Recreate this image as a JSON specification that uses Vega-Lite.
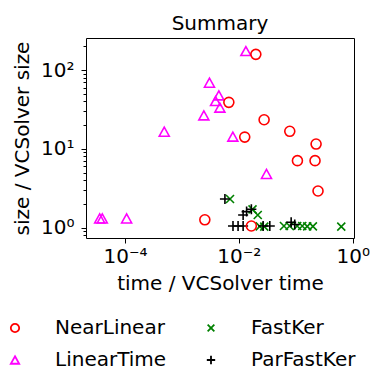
{
  "$schema": "https://vega.github.io/schema/vega-lite/v6.json",
  "width": 268,
  "height": 200,
  "autosize": {"type": "none"},
  "padding": {"left": 86, "top": 38, "right": 16, "bottom": 131},
  "title": {"text": "Summary", "fontSize": 20, "font": "DejaVu Sans", "fontWeight": "normal", "color": "black", "anchor": "middle", "offset": 2},
  "data": {
    "values": [
      {"algo": "FastKer", "time": 0.0070, "size": 2.31},
      {"algo": "FastKer", "time": 0.0174, "size": 1.71},
      {"algo": "FastKer", "time": 0.0215, "size": 1.45},
      {"algo": "FastKer", "time": 0.0233, "size": 1.04},
      {"algo": "FastKer", "time": 0.028, "size": 1.03},
      {"algo": "FastKer", "time": 0.062, "size": 1.05},
      {"algo": "FastKer", "time": 0.078, "size": 1.05},
      {"algo": "FastKer", "time": 0.106, "size": 1.05},
      {"algo": "FastKer", "time": 0.13, "size": 1.05},
      {"algo": "FastKer", "time": 0.159, "size": 1.04},
      {"algo": "FastKer", "time": 0.20, "size": 1.04},
      {"algo": "FastKer", "time": 0.63, "size": 1.03},
      {"algo": "ParFastKer", "time": 0.0057, "size": 2.31},
      {"algo": "ParFastKer", "time": 0.0166, "size": 1.71},
      {"algo": "ParFastKer", "time": 0.0137, "size": 1.6},
      {"algo": "ParFastKer", "time": 0.0119, "size": 1.45},
      {"algo": "ParFastKer", "time": 0.0079, "size": 1.05},
      {"algo": "ParFastKer", "time": 0.0097, "size": 1.05},
      {"algo": "ParFastKer", "time": 0.0119, "size": 1.05},
      {"algo": "ParFastKer", "time": 0.0267, "size": 1.05},
      {"algo": "ParFastKer", "time": 0.035, "size": 1.05},
      {"algo": "ParFastKer", "time": 0.083, "size": 1.17},
      {"algo": "ParFastKer", "time": 0.096, "size": 1.1},
      {"algo": "LinearTime", "time": 0.0133, "size": 174},
      {"algo": "LinearTime", "time": 0.00305, "size": 69},
      {"algo": "LinearTime", "time": 0.00446, "size": 47.7},
      {"algo": "LinearTime", "time": 0.0039, "size": 40.4},
      {"algo": "LinearTime", "time": 0.00465, "size": 33.3},
      {"algo": "LinearTime", "time": 0.00243, "size": 26.6},
      {"algo": "LinearTime", "time": 0.00049, "size": 16.5},
      {"algo": "LinearTime", "time": 0.00785, "size": 14.3},
      {"algo": "LinearTime", "time": 0.0306, "size": 4.8},
      {"algo": "LinearTime", "time": 0.000036, "size": 1.31},
      {"algo": "LinearTime", "time": 0.000040, "size": 1.31},
      {"algo": "LinearTime", "time": 0.000107, "size": 1.31},
      {"algo": "NearLinear", "time": 0.0199, "size": 158},
      {"algo": "NearLinear", "time": 0.00668, "size": 38.9},
      {"algo": "NearLinear", "time": 0.0278, "size": 23.4},
      {"algo": "NearLinear", "time": 0.0785, "size": 16.7},
      {"algo": "NearLinear", "time": 0.0127, "size": 14.1},
      {"algo": "NearLinear", "time": 0.2275, "size": 11.5},
      {"algo": "NearLinear", "time": 0.107, "size": 7.08},
      {"algo": "NearLinear", "time": 0.218, "size": 7.08},
      {"algo": "NearLinear", "time": 0.246, "size": 2.92},
      {"algo": "NearLinear", "time": 0.00253, "size": 1.26},
      {"algo": "NearLinear", "time": 0.0166, "size": 1.05}
    ]
  },
  "mark": {"type": "point", "filled": false, "size": 100, "strokeWidth": 1.6, "opacity": 1},
  "encoding": {
    "x": {
      "field": "time", "type": "quantitative",
      "scale": {"type": "log", "domain": [0.0000207, 1.054], "nice": false, "zero": false},
      "axis": {
        "title": "time / VCSolver time",
        "values": [0.0001, 0.01, 1],
        "labelExpr": "datum.value < 0.001 ? '10⁻⁴' : datum.value < 0.1 ? '10⁻²' : '10⁰'",
        "tickSize": 5,
        "labelPadding": 3,
        "titlePadding": 7
      }
    },
    "y": {
      "field": "size", "type": "quantitative",
      "scale": {"type": "log", "domain": [0.74, 254.7], "nice": false, "zero": false},
      "axis": {
        "title": "size / VCSolver size",
        "values": [0.8, 0.9, 1, 2, 3, 4, 5, 6, 7, 8, 9, 10, 20, 30, 40, 50, 60, 70, 80, 90, 100, 200],
        "labelExpr": "datum.value == 1 ? '10⁰' : datum.value == 10 ? '10¹' : datum.value == 100 ? '10²' : ''",
        "tickSize": {"condition": {"test": "datum.value == 1 || datum.value == 10 || datum.value == 100", "value": 5}, "value": 3},
        "labelPadding": 7,
        "titlePadding": 8
      }
    },
    "color": {
      "field": "algo", "type": "nominal",
      "scale": {"domain": ["NearLinear", "LinearTime", "FastKer", "ParFastKer"], "range": ["#ff0000", "#ff00ff", "#008000", "#000000"]},
      "legend": {
        "orient": "none", "legendX": -81, "legendY": 280, "columns": 2, "title": null,
        "labelFontSize": 20, "labelFont": "DejaVu Sans", "labelColor": "black",
        "symbolSize": 70, "symbolStrokeWidth": 1.8, "labelOffset": 30,
        "columnPadding": 34, "rowPadding": 12
      }
    },
    "shape": {
      "field": "algo", "type": "nominal",
      "scale": {"domain": ["NearLinear", "LinearTime", "FastKer", "ParFastKer"], "range": ["circle", "M0,-0.9L1,0.9L-1,0.9Z", "M-0.8,-0.8L0.8,0.8M-0.8,0.8L0.8,-0.8", "M-1,0L1,0M0,-1L0,1"]}
    }
  },
  "config": {
    "font": "DejaVu Sans",
    "view": {"stroke": "black", "strokeWidth": 1},
    "axis": {
      "domain": false, "grid": false, "tickColor": "black", "tickWidth": 1,
      "labelFontSize": 20, "labelColor": "black", "labelFont": "DejaVu Sans",
      "titleFontSize": 20, "titleFontWeight": "normal", "titleColor": "black", "titleFont": "DejaVu Sans",
      "labelOverlap": false, "labelFlush": false
    }
  }
}
